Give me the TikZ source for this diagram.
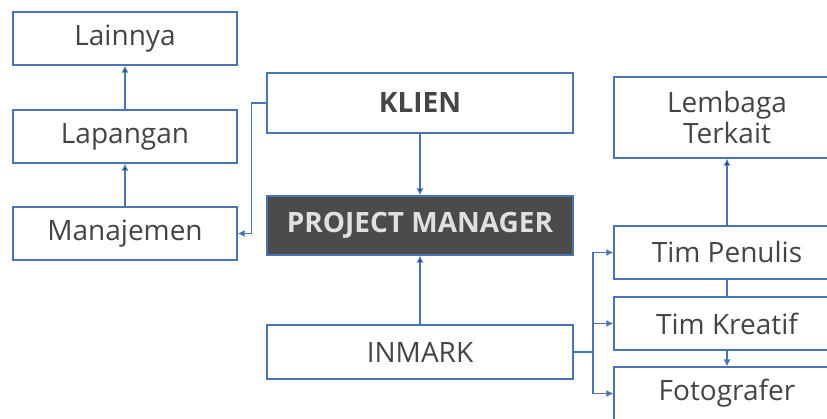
\documentclass[tikz,border=0pt]{standalone}
\usepackage{fontspec}
\setmainfont{Open Sans}
\usetikzlibrary{positioning,arrows.meta}
\definecolor{linkblue}{HTML}{4A74B4}
\definecolor{txtgrey}{HTML}{454545}
\definecolor{pmfill}{HTML}{4B4B4B}

\begin{document}
\begin{tikzpicture}[x=1pt,y=-1pt,
  >={Latex[length=7pt,width=7pt]},
  box/.style={draw=linkblue, line width=1.2pt, fill=white, text=txtgrey,
    font=\fontsize{28}{31}\selectfont, inner sep=0pt, align=center},
  sidebox/.style={box, minimum width=224pt, minimum height=53pt},
  midbox/.style={box, minimum width=306pt},
  rightbox/.style={box, minimum width=226pt, minimum height=53pt},
  link/.style={draw=linkblue, line width=1.3pt}]
\useasboundingbox (0,0) rectangle (827,419);
\clip (0,0) rectangle (827,419);

		% left column
		\node[sidebox] (lainnya)   at (125,38.5)  {Lainnya};
		\node[sidebox] (lapangan)  at (125,136.5) {Lapangan};
		\node[sidebox] (manajemen) at (125,233.5) {Manajemen};

		% middle column
		\node[midbox, minimum height=60pt] (klien) at (420,103)
		{\bfseries KLIEN};
		\node[midbox, minimum height=59pt, fill=pmfill, text=white!88!black]
		(pm) at (420,225.5) {\bfseries PROJECT MANAGER};
		\node[midbox, minimum height=54pt] (inmark) at (420,352) {INMARK};

		% right column
		\node[rightbox, minimum height=81pt] (lembaga) at (727,117.5)
		{Lembaga\\Terkait};
		\node[rightbox] (penulis)    at (727,252.5) {Tim Penulis};
		\node[rightbox] (kreatif)    at (727,323.5) {Tim Kreatif};
		\node[rightbox] (fotografer) at (727,393.5) {Fotografer};

		\coordinate (split) at (593,352);

		\path[link,->] (manajemen) edge (lapangan)
		               (lapangan)  edge (lainnya);

		\draw[link,->] (klien.west) -- ++(-15,0) |- (manajemen.east);

		\path[link,->] (klien)  edge (pm)
		               (inmark) edge (pm);

		\draw[link] (inmark.east) -- (split);
		\draw[link,->] (split) |- (penulis.west);
		\draw[link,->] (split) |- (kreatif.west);
		\draw[link,->] (split) |- (fotografer.west);

		\path[link,->] (penulis) edge (lembaga);
		\draw[link] (penulis) -- (kreatif);
		\draw[link,->] (kreatif) -- (fotografer);

\end{tikzpicture}
\end{document}
